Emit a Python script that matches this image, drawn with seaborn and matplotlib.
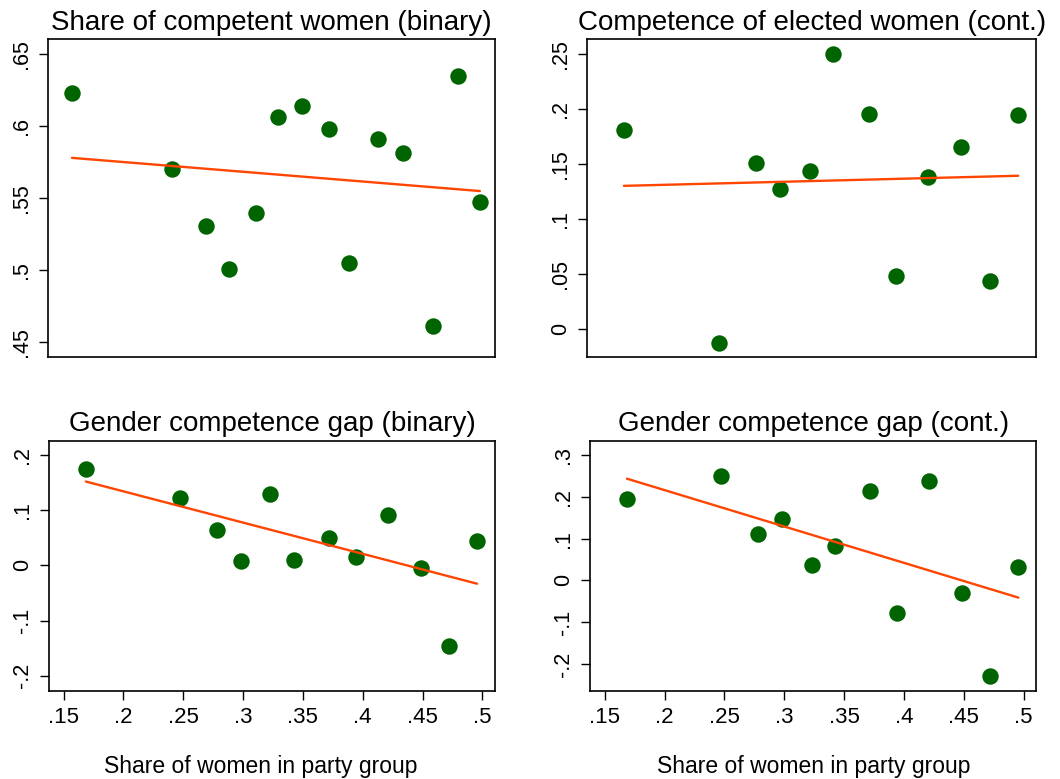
import matplotlib
matplotlib.use("Agg")
import matplotlib.pyplot as plt
import seaborn as sns
import numpy as np
import pandas as pd

# ---------------- data ----------------
# Panel 1: Share of competent women (binary) - 14 party groups
x_share_women_p1 = [0.158, 0.241, 0.270, 0.289, 0.311, 0.330, 0.350, 0.372,
                    0.389, 0.413, 0.434, 0.459, 0.480, 0.498]
y_competent_women = [0.623, 0.570, 0.531, 0.501, 0.540, 0.606, 0.614, 0.598,
                     0.505, 0.591, 0.581, 0.461, 0.635, 0.547]

# Panels 2-4: 12 party groups
x_share_women = [0.1686, 0.2476, 0.2780, 0.2980, 0.3228, 0.3423, 0.3718,
                 0.3941, 0.4212, 0.4485, 0.4722, 0.4956]
y_comp_elected_women = [0.181, -0.013, 0.151, 0.127, 0.143, 0.250, 0.195,
                        0.048, 0.138, 0.165, 0.043, 0.194]
y_gap_binary = [0.175, 0.123, 0.064, 0.007, 0.130, 0.009, 0.049, 0.016,
                0.091, -0.005, -0.147, 0.044]
y_gap_cont = [0.195, 0.251, 0.112, 0.147, 0.038, 0.083, 0.214, -0.077,
              0.238, -0.030, -0.229, 0.032]

titles = ["Share of competent women (binary)",
          "Competence of elected women (cont.)",
          "Gender competence gap (binary)",
          "Gender competence gap (cont.)"]
x_ticks = [0.15, 0.2, 0.25, 0.3, 0.35, 0.4, 0.45, 0.5]
x_tick_labels = [".15", ".2", ".25", ".3", ".35", ".4", ".45", ".5"]
y_ticks_p1 = [0.45, 0.5, 0.55, 0.6, 0.65]
y_labels_p1 = [".45", ".5", ".55", ".6", ".65"]
y_ticks_p2 = [0, 0.05, 0.1, 0.15, 0.2, 0.25]
y_labels_p2 = ["0", ".05", ".1", ".15", ".2", ".25"]
y_ticks_p3 = [-0.2, -0.1, 0, 0.1, 0.2]
y_labels_p3 = ["-.2", "-.1", "0", ".1", ".2"]
y_ticks_p4 = [-0.2, -0.1, 0, 0.1, 0.2, 0.3]
y_labels_p4 = ["-.2", "-.1", "0", ".1", ".2", ".3"]
x_label = "Share of women in party group"

# ---------------- style ----------------
sns.set_theme(style="white")
plt.rcParams['font.family'] = ['Liberation Sans', 'DejaVu Sans']
plt.rcParams['text.color'] = 'black'
plt.rcParams['axes.labelcolor'] = 'black'
plt.rcParams['xtick.color'] = 'black'
plt.rcParams['ytick.color'] = 'black'
plt.rcParams['axes.titlecolor'] = 'black'

W, H = 1060, 779
fig = plt.figure(figsize=(W / 100, H / 100), dpi=100)

def box(l, t, r, b):
    return [l / W, 1 - b / H, (r - l) / W, (b - t) / H]

axes_boxes = [box(48, 39.3, 495, 357.3),
              box(587, 39.3, 1036.3, 357.3),
              box(49.3, 440.7, 495, 691),
              box(590.3, 440.7, 1036.3, 691)]

panels = [
    (x_share_women_p1, y_competent_women, y_ticks_p1, y_labels_p1, (0.4396, 0.6602)),
    (x_share_women, y_comp_elected_women, y_ticks_p2, y_labels_p2, (-0.0261, 0.2633)),
    (x_share_women, y_gap_binary, y_ticks_p3, y_labels_p3, (-0.2278, 0.226)),
    (x_share_women, y_gap_cont, y_ticks_p4, y_labels_p4, (-0.2646, 0.3343)),
]
xlabel_xpos = {2: 0.475, 3: 0.50}

dot_color = "#006400"
line_color = "#FF4500"

for i, (xs, ys, yt, yl, ylim) in enumerate(panels):
    ax = fig.add_axes(axes_boxes[i])
    df = pd.DataFrame({"x": xs, "y": ys})
    sns.regplot(data=df, x="x", y="y", ax=ax, ci=None,
                scatter_kws=dict(s=140, color=dot_color, linewidths=0, alpha=1, zorder=3),
                line_kws=dict(color=line_color, lw=1.7, zorder=4))
    ax.set_xlim(0.138, 0.5106)
    ax.set_ylim(*ylim)
    ax.set_title(titles[i], fontsize=20, pad=7, color="black")
    ax.set_yticks(yt)
    ax.set_yticklabels(yl, rotation=90, va="center")
    ax.tick_params(axis="y", length=6.5, width=1, color="black", pad=5,
                   labelsize=15.5, left=True, direction="out", labelcolor="black")
    ax.set_ylabel("")
    if i >= 2:
        ax.set_xticks(x_ticks)
        ax.set_xticklabels(x_tick_labels)
        ax.tick_params(axis="x", length=6.5, width=1, color="black", pad=5,
                       labelsize=16, bottom=True, direction="out", labelcolor="black")
        ax.set_xlabel(x_label, fontsize=16.5, color="black")
        ax.xaxis.set_label_coords(xlabel_xpos[i], -0.255)
    else:
        ax.set_xticks([])
        ax.set_xlabel("")
    for s in ax.spines.values():
        s.set_color("black")
        s.set_linewidth(1.2)
        s.set_visible(True)

fig.savefig("out.png", dpi=100, facecolor="white")
